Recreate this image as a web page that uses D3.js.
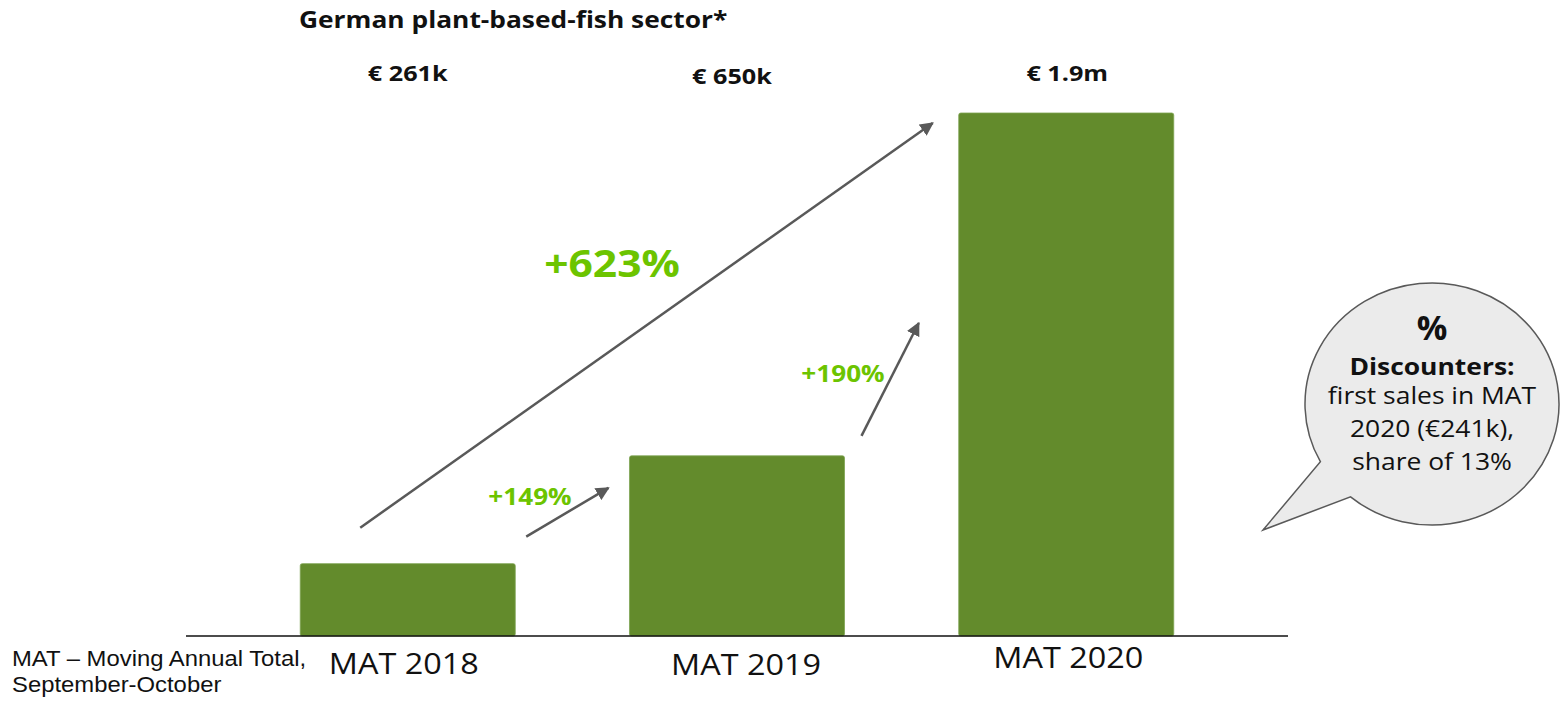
<!DOCTYPE html>
<html>
<head>
    <meta charset="utf-8">
    <title>German plant-based-fish sector</title>
    <style>
        body{ margin: 0; background: #fff; }
        svg{ display: block; }
        text{ font-family: "Open Sans", sans-serif; fill: #111; }
        .note{ font-family: "Liberation Sans", Arial, sans-serif; }
    </style>
    <script src="https://cdn.jsdelivr.net/npm/d3@7"></script>
</head>
<body>
<svg id="chart"></svg>
<script type="text/javascript">
    // data (sales in € thousand, moving annual total)
    const categories = ["MAT 2018", "MAT 2019", "MAT 2020"];
    const values = [261, 650, 1887];
    const valueLabels = ["€ 261k", "€ 650k", "€ 1.9m"];
    const growthFrom = [0, 1, 0];
    const growthTo = [1, 2, 2];
    const growthLabels = ["+149%", "+190%", "+623%"];
    const bubbleLines = ["first sales in MAT", "2020 (€241k),", "share of 13%"];

    const W = 1560, H = 701;
    const svg = d3.select("#chart").attr("width", W).attr("height", H);

    const x = d3.scaleBand().domain(categories).range([186, 1288]).padding(0.347);
    const y = d3.scaleLinear().domain([0, 1887]).range([636, 113]);

    const green = "#638b2c", lightGreen = "#6cc400", grey = "#595959";

    // the slide text is a bit wider than the font, so stretch it horizontally
    const place = (sx, px, py) => `translate(${px},${py}) scale(${sx},1)`;

    // arrow head
    svg.append("defs").append("marker")
        .attr("id", "head")
        .attr("viewBox", "0 0 10 10")
        .attr("refX", 9).attr("refY", 5)
        .attr("markerWidth", 5.5).attr("markerHeight", 5.5)
        .attr("orient", "auto")
        .append("path")
        .attr("d", "M0,0 L10,5 L0,10 Z")
        .attr("fill", grey);

    // title
    svg.append("text")
        .attr("transform", place(1.145, 299, 28))
        .attr("font-size", 23).attr("font-weight", 700)
        .text("German plant-based-fish sector*");

    // bars
    svg.selectAll("rect.bar")
        .data(values)
        .enter()
        .append("rect")
        .attr("class", "bar")
        .attr("x", (d, i) => x(categories[i]))
        .attr("y", d => y(d))
        .attr("width", x.bandwidth())
        .attr("height", d => y(0) - y(d))
        .attr("rx", 2)
        .attr("fill", green)
        .attr("stroke", "#7da352")
        .attr("stroke-width", 0.8);

    // baseline
    svg.append("line")
        .attr("x1", x.range()[0]).attr("x2", x.range()[1])
        .attr("y1", y(0)).attr("y2", y(0))
        .attr("stroke", "#111").attr("stroke-width", 1.5);

    // category labels
    const catDx = [-4, 9, 2], catY = [674, 675, 668];
    svg.selectAll("text.cat")
        .data(categories)
        .enter()
        .append("text")
        .attr("class", "cat")
        .attr("transform", (d, i) => place(1.08, x(d) + x.bandwidth() / 2 + catDx[i], catY[i]))
        .attr("text-anchor", "middle")
        .attr("font-size", 30)
        .text(d => d);

    // value labels, all on one row at the top
    const valDx = [0, -5, 1], valY = [81, 84, 81];
    svg.selectAll("text.val")
        .data(valueLabels)
        .enter()
        .append("text")
        .attr("class", "val")
        .attr("transform", (d, i) => place(1.2, x(categories[i]) + x.bandwidth() / 2 + valDx[i], valY[i]))
        .attr("text-anchor", "middle")
        .attr("font-size", 21).attr("font-weight", 700)
        .text(d => d);

    // growth arrows: start near the earlier bar, end near the later bar
    const barLeft = i => x(categories[i]);
    const barRight = i => x(categories[i]) + x.bandwidth();
    const barTop = i => y(values[i]);
    const arrows = growthLabels.map((lab, k) => {
        const a = growthFrom[k], b = growthTo[k];
        if (k === 0) return {lab, x1: barRight(a) + 11, y1: barTop(a) - 27, x2: barLeft(b) - 21, y2: barTop(b) + 32, lx: 530, ly: 505, fs: 24, sx: 1.09};
        if (k === 1) return {lab, x1: barRight(a) + 17, y1: barTop(a) - 20, x2: barLeft(b) - 40, y2: barTop(b) + 210, lx: 843, ly: 382, fs: 24, sx: 1.09};
        return {lab, x1: barLeft(a) + 60, y1: barTop(a) - 36, x2: barLeft(b) - 26, y2: barTop(b) + 10, lx: 612, ly: 277, fs: 37, sx: 1.15};
    });

    svg.selectAll("line.arrow")
        .data(arrows)
        .enter()
        .append("line")
        .attr("class", "arrow")
        .attr("x1", d => d.x1).attr("y1", d => d.y1)
        .attr("x2", d => d.x2).attr("y2", d => d.y2)
        .attr("stroke", grey).attr("stroke-width", 2.5)
        .attr("marker-end", "url(#head)");

    svg.selectAll("text.growth")
        .data(arrows)
        .enter()
        .append("text")
        .attr("class", "growth")
        .attr("transform", d => place(d.sx, d.lx, d.ly))
        .attr("text-anchor", "middle")
        .attr("font-size", d => d.fs).attr("font-weight", 700)
        .style("fill", lightGreen)
        .text(d => d.lab);

    // speech bubble
    const cx = 1432, cy = 404, rx = 127, ry = 121;
    const pt = deg => [cx + rx * Math.cos(deg * Math.PI / 180), cy + ry * Math.sin(deg * Math.PI / 180)];
    const p1 = pt(151.5), p2 = pt(129.9);
    svg.append("path")
        .attr("d", `M${p1} A${rx},${ry} 0 1 1 ${p2} L1263,530 Z`)
        .attr("fill", "#ebebeb")
        .attr("stroke", grey).attr("stroke-width", 1.5);

    svg.append("text")
        .attr("transform", place(1.0, cx, 340))
        .attr("text-anchor", "middle")
        .attr("font-size", 34).attr("font-weight", 700)
        .text("%");
    svg.append("text")
        .attr("transform", place(1.15, cx, 375))
        .attr("text-anchor", "middle")
        .attr("font-size", 23).attr("font-weight", 700)
        .text("Discounters:");
    svg.selectAll("text.bub")
        .data(bubbleLines)
        .enter()
        .append("text")
        .attr("class", "bub")
        .attr("transform", (d, i) => place(1.15, cx, 404 + i * 33))
        .attr("text-anchor", "middle")
        .attr("font-size", 23)
        .text(d => d);

    // footnote
    const noteLines = ["MAT – Moving Annual Total,", "September-October"];
    svg.selectAll("text.note")
        .data(noteLines)
        .enter()
        .append("text")
        .attr("class", "note")
        .attr("transform", (d, i) => place(1.06, 12, 666 + i * 26))
        .attr("font-size", 22.5)
        .text(d => d);
</script>
</body>
</html>
